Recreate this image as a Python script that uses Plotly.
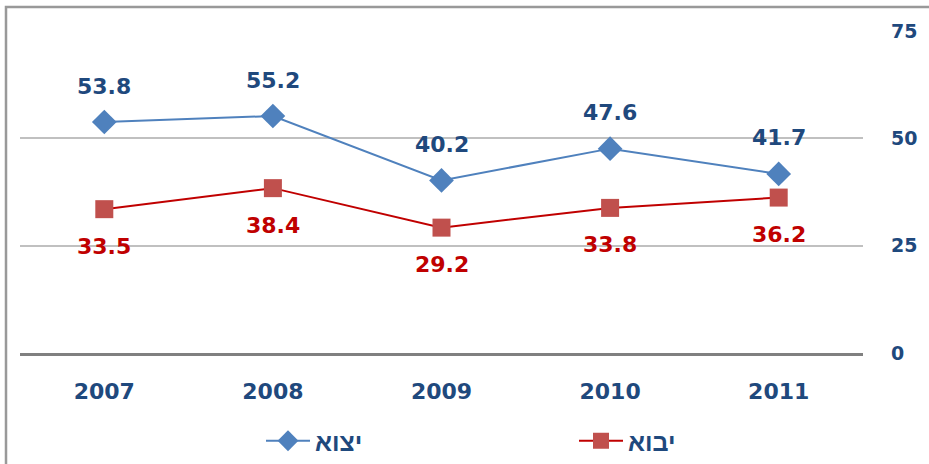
import plotly.graph_objects as go

years = ["2007", "2008", "2009", "2010", "2011"]
exports = [53.8, 55.2, 40.2, 47.6, 41.7]
imports = [33.5, 38.4, 29.2, 33.8, 36.2]
name_exports = "יצוא"
name_imports = "יבוא"
y_ticks = [0, 25, 50, 75]

NAVY = "#1F497D"
BLUE = "#4F81BD"
RED_LINE = "#C00000"
RED_MARK = "#C0504D"

fig = go.Figure()
fig.add_trace(go.Scatter(
    x=years, y=exports, name=name_exports, mode="lines+markers",
    line=dict(color=BLUE, width=2),
    marker=dict(symbol="diamond", size=19, color=BLUE),
))
fig.add_trace(go.Scatter(
    x=years, y=imports, name=name_imports, mode="lines+markers",
    line=dict(color=RED_LINE, width=2),
    marker=dict(symbol="square", size=18, color=RED_MARK),
))

annotations = []
for i, v in enumerate(exports):
    annotations.append(dict(x=i, y=v, text=f"{v:.1f}", showarrow=False,
                            yshift=36, font=dict(family="DejaVu Sans", size=22, color=NAVY, weight="bold")))
for i, v in enumerate(imports):
    annotations.append(dict(x=i, y=v, text=f"{v:.1f}", showarrow=False,
                            yshift=-37, font=dict(family="DejaVu Sans", size=22, color=RED_LINE, weight="bold")))

L, R, T, B = 20, 66, 31, 111
W, H = 929, 464
pw = W - L - R
ph = H - T - B
bx = (6 - L) / pw
by = (ph + T - 7) / ph

fig.update_layout(
    width=W, height=H,
    margin=dict(l=L, r=R, t=T, b=B, pad=0, autoexpand=False),
    paper_bgcolor="white", plot_bgcolor="white",
    showlegend=True,
    legend=dict(orientation="h", x=(261 - L) / pw, xanchor="left",
                y=(ph + T - 441) / ph, yanchor="middle",
                entrywidth=254, entrywidthmode="pixels", itemwidth=44,
                font=dict(family="Liberation Sans", size=25, color=NAVY, weight="bold"),
                bgcolor="rgba(0,0,0,0)"),
    annotations=annotations,
    xaxis=dict(type="category", range=[-0.5, 4.5], showgrid=False, showline=True,
               linecolor="#808080", linewidth=3,
               ticks="", ticklabelstandoff=17,
               tickfont=dict(family="DejaVu Sans", size=22, color=NAVY, weight="bold"),
               fixedrange=True),
    yaxis=dict(range=[0, 75], tickvals=y_ticks, side="right", showgrid=True,
               gridcolor="#C0C0C0", gridwidth=2, zeroline=False, showline=False,
               ticks="", ticklabelstandoff=27,
               tickfont=dict(family="DejaVu Sans", size=19, color=NAVY, weight="bold"),
               fixedrange=True),
    shapes=[dict(type="path", xref="paper", yref="paper",
                 path=f"M {bx},-1 L {bx},{by} L 2,{by}",
                 line=dict(color="#999999", width=2.5))],
)

fig.write_html("out.html", config={"displayModeBar": False},
               post_script="document.body.style.margin='0px';")
